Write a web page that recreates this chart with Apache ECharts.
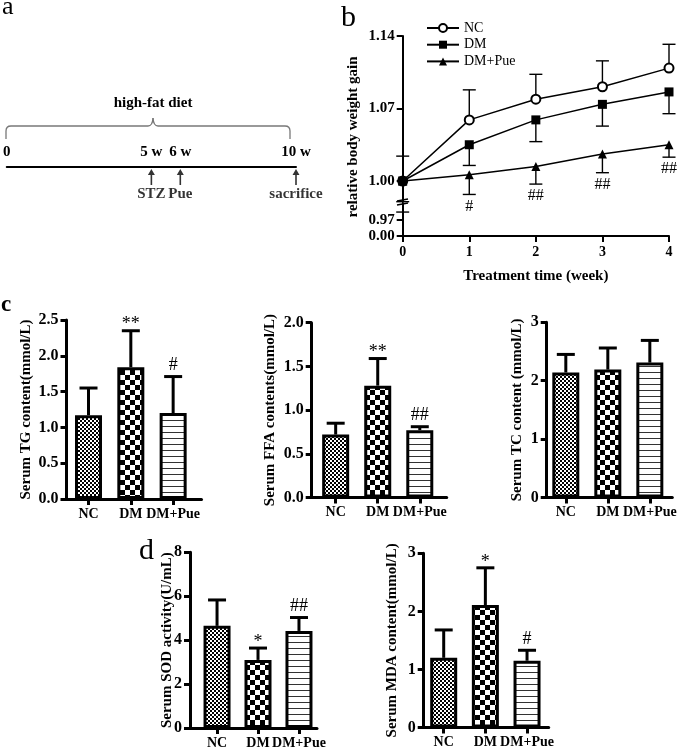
<!DOCTYPE html>
<html><head><meta charset="utf-8">
<script src="https://cdn.jsdelivr.net/npm/echarts@6/dist/echarts.min.js"></script>
<style>html,body{margin:0;padding:0;background:#fff}#c{width:685px;height:750px}</style>
</head><body><div id="c"></div>
<script>
// ---------------- data ----------------
const timelineWeeks = [0, 5, 6, 10];
const timelineLabels = ['0', '5 w', '6 w', '10 w'];
const eventWeeks = [5, 6, 10];
const eventLabels = ['STZ', 'Pue', 'sacrifice'];
const dietLabel = 'high-fat diet';

const weeks = [0, 1, 2, 3, 4];
const ncGain = [1.000, 1.059, 1.079, 1.091, 1.109];
const ncGainErr = [0.024, 0.029, 0.024, 0.025, 0.023];
const dmGain = [1.000, 1.035, 1.059, 1.074, 1.086];
const dmGainErr = [0.020, 0.020, 0.021, 0.021, 0.021];
const pueGain = [1.000, 1.006, 1.014, 1.026, 1.035];
const pueGainErr = [0.030, 0.019, 0.017, 0.018, 0.012];
const pueGainMarks = ['', '#', '##', '##', '##'];
const gainTicksUpper = [1.00, 1.07, 1.14];
const gainTicksLower = [0.00, 0.97];

const groups = ['NC', 'DM', 'DM+Pue'];
const tgMean = [1.17, 1.84, 1.20];
const tgErr = [0.38, 0.51, 0.51];
const tgMarks = ['', '**', '#'];
const ffaMean = [0.72, 1.28, 0.77];
const ffaErr = [0.13, 0.31, 0.04];
const ffaMarks = ['', '**', '##'];
const tcMean = [2.14, 2.19, 2.31];
const tcErr = [0.31, 0.37, 0.38];
const tcMarks = ['', '', ''];
const sodMean = [4.65, 3.10, 4.42];
const sodErr = [1.18, 0.54, 0.61];
const sodMarks = ['', '*', '##'];
const mdaMean = [1.20, 2.11, 1.15];
const mdaErr = [0.48, 0.64, 0.18];
const mdaMarks = ['', '*', '#'];

// ---------------- helpers ----------------
const FONT = 'Liberation Serif';
const chart = echarts.init(document.getElementById('c'), null, {renderer: 'canvas', width: 685, height: 750});

function pattern(kind) {
  const c = document.createElement('canvas');
  const ctx = c.getContext('2d');
  if (kind === 'fine') {
    c.width = 4; c.height = 4;
    ctx.fillStyle = '#fff'; ctx.fillRect(0, 0, 4, 4);
    ctx.fillStyle = '#000'; ctx.fillRect(0, 0, 2, 2); ctx.fillRect(2, 2, 2, 2);
  } else if (kind === 'check') {
    c.width = 10; c.height = 10;
    ctx.fillStyle = '#fff'; ctx.fillRect(0, 0, 10, 10);
    ctx.fillStyle = '#000'; ctx.fillRect(0, 0, 5, 5); ctx.fillRect(5, 5, 5, 5);
  } else {
    c.width = 4; c.height = 6;
    ctx.fillStyle = '#fff'; ctx.fillRect(0, 0, 4, 6);
    ctx.fillStyle = '#333'; ctx.fillRect(0, 0, 4, 1);
  }
  return {image: c, repeat: 'repeat'};
}
const patterns = [pattern('fine'), pattern('check'), pattern('stripe')];

function errorSeries(xi, yi, xs, mean, err, dir, marks, opt) {
  return {
    type: 'custom', xAxisIndex: xi, yAxisIndex: yi, clip: false, z: opt.z || 4, silent: true,
    data: xs.map((x, i) => [x, mean[i], err[i]]),
    renderItem: (params, api) => {
      const i = params.dataIndex;
      const x = api.value(0), m = api.value(1), e = api.value(2);
      const p0 = api.coord([x, m]), p1 = api.coord([x, m + dir * e]);
      const st = {stroke: '#000', lineWidth: opt.lw};
      const ch = [
        {type: 'line', shape: {x1: p0[0], y1: p0[1], x2: p1[0], y2: p1[1]}, style: st},
        {type: 'line', shape: {x1: p1[0] - opt.cap, y1: p1[1], x2: p1[0] + opt.cap, y2: p1[1]}, style: st}
      ];
      const mk = marks ? marks[i] : '';
      if (mk) {
        const star = mk.indexOf('*') >= 0;
        ch.push({type: 'text', style: {
          text: mk, x: p1[0],
          y: dir > 0 ? p1[1] + (star ? 3 : -2) : p1[1] + 4,
          align: 'center', verticalAlign: dir > 0 ? 'bottom' : 'top',
          font: (star ? 18 : opt.markSize) + 'px "' + FONT + '"', fill: '#000'
        }});
      }
      return {type: 'group', children: ch};
    }
  };
}

const grids = [], xAxes = [], yAxes = [], series = [];

// ---------------- panel a (timeline) ----------------
grids.push({left: 6, top: 167, width: 290, height: 30});
xAxes.push({gridIndex: 0, type: 'value', min: 0, max: 10, position: 'top',
  axisLine: {show: true, onZero: false, lineStyle: {color: '#000', width: 2}},
  axisTick: {show: false}, splitLine: {show: false},
  axisLabel: {customValues: timelineWeeks, formatter: v => timelineLabels[timelineWeeks.indexOf(v)],
    color: '#000', fontFamily: FONT, fontWeight: 'bold', fontSize: 15, margin: 7}});
yAxes.push({gridIndex: 0, type: 'value', min: -30, max: 0, show: false});
series.push({type: 'scatter', xAxisIndex: 0, yAxisIndex: 0, silent: true,
  symbol: 'path://M3.5,0L7,6L4.3,6L4.3,16L2.7,16L2.7,6L0,6Z', symbolSize: [7, 16],
  itemStyle: {color: '#000'}, data: eventWeeks.map(w => [w, -10]),
  label: {show: true, position: 'bottom', distance: 2, formatter: p => eventLabels[p.dataIndex],
    color: '#000', fontFamily: FONT, fontWeight: 'bold', fontSize: 15}});

// ---------------- panel b (body weight) ----------------
const bLeft = 402.7, bWidth = 266.3;
grids.push({left: bLeft, top: 36, width: bWidth, height: 165.7});   // grid 1 upper
grids.push({left: bLeft, top: 204, width: bWidth, height: 32});     // grid 2 lower
xAxes.push({gridIndex: 1, type: 'value', min: 0, max: 4, show: false});
yAxes.push({gridIndex: 1, type: 'value', min: 0.98, max: 1.14,
  axisLine: {show: true, lineStyle: {color: '#000', width: 2}},
  axisTick: {show: true, customValues: gainTicksUpper, length: 6, lineStyle: {color: '#000', width: 2}},
  axisLabel: {customValues: gainTicksUpper, formatter: v => v.toFixed(2), color: '#000',
    fontFamily: FONT, fontWeight: 'bold', fontSize: 15, margin: 8},
  splitLine: {show: false}});
xAxes.push({gridIndex: 2, type: 'value', min: 0, max: 4, interval: 1,
  axisLine: {show: true, onZero: false, lineStyle: {color: '#000', width: 2}},
  axisTick: {show: true, length: 6, lineStyle: {color: '#000', width: 2}},
  axisLabel: {color: '#000', fontFamily: FONT, fontWeight: 'bold', fontSize: 14, margin: 9},
  splitLine: {show: false},
  name: 'Treatment time (week)', nameLocation: 'middle', nameGap: 33, nameMoveOverlap: false,
  nameTextStyle: {color: '#000', fontFamily: FONT, fontWeight: 'bold', fontSize: 15}});
yAxes.push({gridIndex: 2, type: 'value', min: 0, max: 1.94,
  axisLine: {show: true, lineStyle: {color: '#000', width: 2}},
  axisTick: {show: true, customValues: gainTicksLower, length: 6, lineStyle: {color: '#000', width: 2}},
  axisLabel: {customValues: gainTicksLower, formatter: v => v.toFixed(2), color: '#000',
    fontFamily: FONT, fontWeight: 'bold', fontSize: 15, margin: 8},
  splitLine: {show: false}});

const lineCommon = {type: 'line', xAxisIndex: 1, yAxisIndex: 1, z: 6, silent: true,
  lineStyle: {color: '#000', width: 1.5}};
series.push(Object.assign({}, lineCommon, {name: 'NC', symbol: 'emptyCircle', symbolSize: 9,
  itemStyle: {color: '#000', borderWidth: 1.5}, data: weeks.map((w, i) => [w, ncGain[i]])}));
series.push(Object.assign({}, lineCommon, {name: 'DM', symbol: 'rect', symbolSize: 9,
  itemStyle: {color: '#000'}, data: weeks.map((w, i) => [w, dmGain[i]])}));
series.push(Object.assign({}, lineCommon, {name: 'DM+Pue', symbol: 'triangle', symbolSize: 9,
  itemStyle: {color: '#000'}, data: weeks.map((w, i) => [w, pueGain[i]])}));
const bErrOpt = {lw: 1.4, cap: 6.5, markSize: 16, z: 3};
series.push(errorSeries(1, 1, weeks, ncGain, ncGainErr, 1, null, bErrOpt));
series.push(errorSeries(1, 1, weeks, dmGain, dmGainErr, -1, null, bErrOpt));
series.push(errorSeries(1, 1, weeks, pueGain, pueGainErr, -1, pueGainMarks, bErrOpt));

// ---------------- bar panels (c, d) ----------------
function barPanel(g, mean, err, marks, yMax, yInt, dec, yName, nameGap, xMin, xMax) {
  grids.push(g);
  const gi = grids.length - 1;
  xAxes.push({gridIndex: gi, type: 'value', min: xMin, max: xMax,
    axisLine: {show: true, onZero: false, lineStyle: {color: '#000', width: 3}},
    axisTick: {show: true, customValues: [1, 2, 3], length: 6, lineStyle: {color: '#000', width: 3}},
    axisLabel: {customValues: [1, 2, 3], formatter: v => groups[Math.round(v) - 1], color: '#000',
      fontFamily: FONT, fontWeight: 'bold', fontSize: 14, margin: 8},
    splitLine: {show: false}});
  yAxes.push({gridIndex: gi, type: 'value', min: 0, max: yMax, interval: yInt,
    axisLine: {show: true, lineStyle: {color: '#000', width: 3}},
    axisTick: {show: true, length: 6, lineStyle: {color: '#000', width: 3}},
    axisLabel: {formatter: v => v.toFixed(dec), color: '#000', fontFamily: FONT, fontWeight: 'bold',
      fontSize: 16, margin: 8},
    splitLine: {show: false},
    name: yName, nameLocation: 'middle', nameGap: nameGap, nameMoveOverlap: false,
    nameTextStyle: {color: '#000', fontFamily: FONT, fontWeight: 'bold', fontSize: 15}});
  series.push({type: 'bar', xAxisIndex: gi, yAxisIndex: gi, barWidth: 27, silent: true, z: 2,
    itemStyle: {borderColor: '#000', borderWidth: 3},
    data: groups.map((n, i) => ({value: [i + 1, mean[i]], itemStyle: {color: patterns[i]}}))});
  series.push(errorSeries(gi, gi, [1, 2, 3], mean, err, 1, marks, {lw: 3, cap: 9, markSize: 18, z: 4}));
}
barPanel({left: 66.5, top: 320, width: 135, height: 179}, tgMean, tgErr, tgMarks, 2.5, 0.5, 1,
  'Serum TG content(mmol/L)', 33, 0.48, 3.67);
barPanel({left: 311.7, top: 322.7, width: 135, height: 174.8}, ffaMean, ffaErr, ffaMarks, 2.0, 0.5, 1,
  'Serum FFA contents(mmol/L)', 34, 0.43, 3.64);
barPanel({left: 546.7, top: 322.3, width: 125.6, height: 175.2}, tcMean, tcErr, tcMarks, 3, 1, 0,
  'Serum TC content (mmol/L)', 22, 0.545, 3.535);
barPanel({left: 190, top: 552.3, width: 127, height: 176}, sodMean, sodErr, sodMarks, 8, 2, 0,
  'Serum SOD activity(U/mL)', 15, 0.34, 3.44);
barPanel({left: 423.7, top: 553.3, width: 125, height: 174.2}, mdaMean, mdaErr, mdaMarks, 3, 1, 0,
  'Serum MDA content(mmol/L)', 24, 0.52, 3.52);

// ---------------- annotations ----------------
const braceStyle = {stroke: '#777', lineWidth: 1.3, fill: null};
const graphic = [
  {type: 'text', x: 2, y: 7, style: {text: 'a', font: '26px "' + FONT + '"', fill: '#000', verticalAlign: 'middle'}},
  {type: 'text', x: 341, y: 18, style: {text: 'b', font: '30px "' + FONT + '"', fill: '#000', verticalAlign: 'middle'}},
  {type: 'text', x: 1, y: 305, style: {text: 'c', font: 'bold 23px "' + FONT + '"', fill: '#000', verticalAlign: 'middle'}},
  {type: 'text', x: 139, y: 551, style: {text: 'd', font: '30px "' + FONT + '"', fill: '#000', verticalAlign: 'middle'}},
  {type: 'text', x: 153, y: 103, style: {text: dietLabel, font: 'bold 15px "' + FONT + '"', fill: '#000', align: 'center', verticalAlign: 'middle'}},
  {type: 'line', shape: {x1: 6, y1: 139, x2: 6, y2: 131}, style: braceStyle},
  {type: 'bezierCurve', shape: {x1: 6, y1: 131, cpx1: 6, cpy1: 126, x2: 11, y2: 126}, style: braceStyle},
  {type: 'line', shape: {x1: 11, y1: 126, x2: 148, y2: 126}, style: braceStyle},
  {type: 'bezierCurve', shape: {x1: 148, y1: 126, cpx1: 152.5, cpy1: 126, x2: 153, y2: 118}, style: braceStyle},
  {type: 'bezierCurve', shape: {x1: 153, y1: 118, cpx1: 153.5, cpy1: 126, x2: 158, y2: 126}, style: braceStyle},
  {type: 'line', shape: {x1: 158, y1: 126, x2: 285, y2: 126}, style: braceStyle},
  {type: 'bezierCurve', shape: {x1: 285, y1: 126, cpx1: 290, cpy1: 126, x2: 290, y2: 131}, style: braceStyle},
  {type: 'line', shape: {x1: 290, y1: 131, x2: 290, y2: 139}, style: braceStyle},
  {type: 'text', x: 353, y: 137, rotation: Math.PI / 2,
    style: {text: 'relative body weight gain', font: 'bold 15px "' + FONT + '"', fill: '#000', align: 'center', verticalAlign: 'middle'}},
  {type: 'line', shape: {x1: 397, y1: 201, x2: 408, y2: 199}, style: {stroke: '#000', lineWidth: 1.5}},
  {type: 'line', shape: {x1: 397, y1: 205, x2: 408, y2: 203}, style: {stroke: '#000', lineWidth: 1.5}}
];

chart.setOption({
  animation: false,
  backgroundColor: '#fff',
  textStyle: {fontFamily: FONT},
  legend: {data: ['NC', 'DM', 'DM+Pue'], orient: 'vertical', left: 421, top: 16,
    itemWidth: 32, itemHeight: 10, itemGap: 2.7, selectedMode: false,
    textStyle: {color: '#000', fontFamily: FONT, fontSize: 14}},
  grid: grids, xAxis: xAxes, yAxis: yAxes, series: series, graphic: graphic
});
</script></body></html>
